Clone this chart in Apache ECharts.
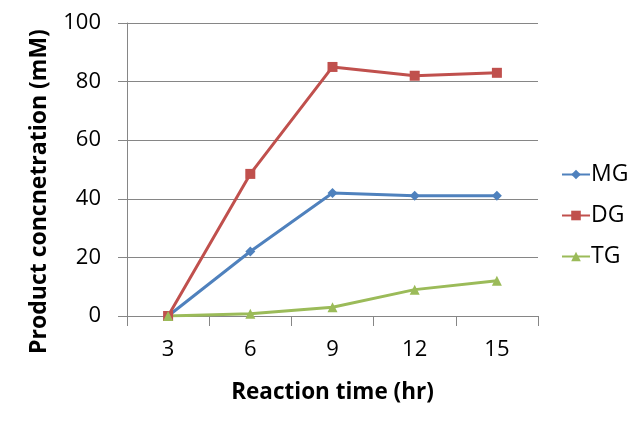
<!DOCTYPE html>
<html><head><meta charset="utf-8">
<script src="https://cdn.jsdelivr.net/npm/echarts@6/dist/echarts.min.js"></script>
<style>html,body{margin:0;padding:0;background:#fff}#c{width:640px;height:427px}</style>
</head><body><div id="c"></div>
<script>
const categories = ['3', '6', '9', '12', '15'];
const mgValues = [0, 22, 42, 41, 41];
const dgValues = [0, 48.5, 85, 82, 83];
const tgValues = [0, 0.8, 3, 9, 12];
const yTicks = [0, 20, 40, 60, 80, 100];

const FONT = '"Open Sans", "Noto Sans", sans-serif';
const chart = echarts.init(document.getElementById('c'), null, {renderer: 'canvas'});
function mk(name, data, color, symbol, size) {
  return {
    name, type: 'line', data, symbol, symbolSize: size,
    lineStyle: {color, width: 3}, itemStyle: {color},
    animation: false
  };
}
chart.setOption({
  backgroundColor: '#fff',
  animation: false,
  grid: {left: 127, right: 102, top: 23, bottom: 111},
  legend: {
    orient: 'vertical', left: 556, top: 158,
    itemWidth: 28, itemHeight: 12, itemGap: 18,
    textStyle: {fontFamily: FONT, fontSize: 23, color: '#000', lineHeight: 22, padding: [0, 0, 0, -4]},
    data: ['MG', 'DG', 'TG']
  },
  xAxis: {
    type: 'category', data: categories, boundaryGap: true,
    name: 'Reaction time (hr)', nameLocation: 'middle', nameGap: 65,
    nameTextStyle: {fontFamily: FONT, fontSize: 22.5, fontWeight: 'bold', color: '#000'},
    axisLine: {lineStyle: {color: '#868686', width: 1}},
    axisTick: {show: true, length: 10, lineStyle: {color: '#868686'}},
    axisLabel: {fontFamily: FONT, fontSize: 22, color: '#000', margin: 23}
  },
  yAxis: {
    type: 'value', min: yTicks[0], max: yTicks[yTicks.length - 1], interval: 20,
    name: 'Product concnetration (mM)', nameLocation: 'middle', nameGap: 76,
    nameTextStyle: {fontFamily: FONT, fontSize: 23, fontWeight: 'bold', color: '#000', padding: [0, 44, 0, 0]},
    axisLine: {show: true, lineStyle: {color: '#868686', width: 1}},
    axisTick: {show: true, length: 9, lineStyle: {color: '#868686'}},
    splitLine: {lineStyle: {color: '#868686', width: 1}},
    axisLabel: {fontFamily: FONT, fontSize: 22, color: '#000', margin: 26}
  },
  series: [
    mk('MG', mgValues, '#4F81BD', 'diamond', 10),
    mk('DG', dgValues, '#C0504D', 'rect', 10),
    mk('TG', tgValues, '#9BBB59', 'triangle', 10)
  ]
});
</script></body></html>
